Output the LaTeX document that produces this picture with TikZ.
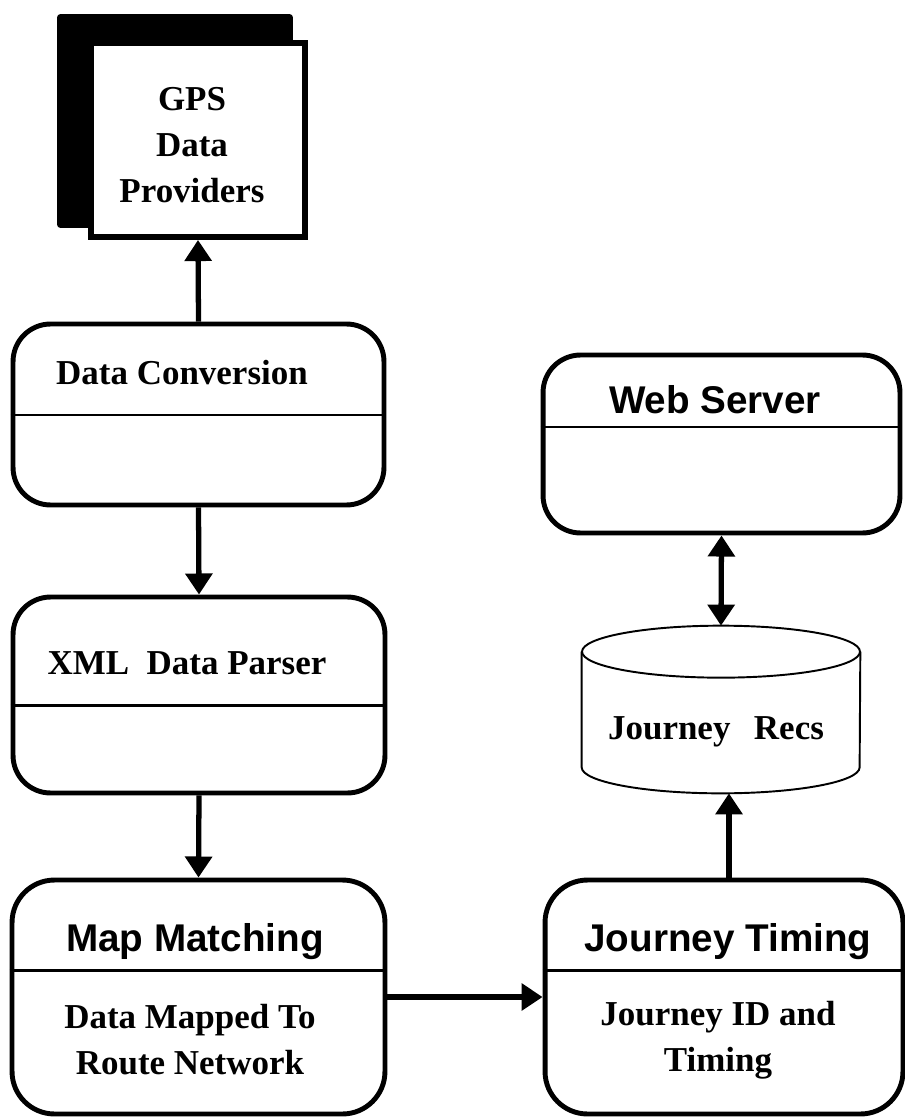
\documentclass[tikz,border=0pt]{standalone}
\usepackage{fontspec}
\setmainfont{Liberation Serif}
\setsansfont{Liberation Sans}
\usetikzlibrary{positioning,arrows.meta}

\begin{document}
\begin{tikzpicture}[x=0.02cm,y=-0.02cm,
    proc/.style={draw, line width=2.8pt, rounded corners=0.75cm, inner sep=0pt},
    sep/.style={line width=1.7pt},
    dbline/.style={line width=1.1pt},
    flow/.style={line width=3pt, -{Triangle[length=12pt,width=15pt]}},
    both/.style={line width=3pt, {Triangle[length=12pt,width=15pt]}-{Triangle[length=12pt,width=15pt]}},
    lbl/.style={font=\fontsize{19.9}{26.2}\selectfont\bfseries, align=center, inner sep=0pt},
    head/.style={font=\fontsize{22}{26}\selectfont\sffamily\bfseries, inner sep=0pt}]
    \useasboundingbox (0,0) rectangle (905,1118);

    \node[fill, rounded corners=2pt, minimum width=4.72cm, minimum height=4.28cm] (GPSback) at (175,121) {};
    \node[draw, fill=white, line width=3.4pt, minimum width=4.28cm, minimum height=3.88cm] (GPS) at (198,140) {};
    \node[lbl] (GPStxt) at (192,145) {GPS\\Data\\Providers};

    \node[proc, minimum width=7.42cm, minimum height=3.62cm] (DC)  at (198.5,414.5) {};
    \node[proc, minimum width=7.44cm, minimum height=3.92cm] (XML) at (199,695)     {};
    \node[proc, rounded corners=0.85cm, minimum width=7.46cm, minimum height=4.68cm] (MM) at (198.5,997) {};
    \node[proc, rounded corners=0.85cm, minimum width=7.16cm, minimum height=4.68cm] (JT) at (724,997)   {};
    \node[proc, minimum width=7.14cm, minimum height=3.56cm] (WS)  at (721.5,444)   {};

    \draw[sep] (DC.west  |- 0,415) -- (DC.east  |- 0,415);
    \draw[sep] (XML.west |- 0,705) -- (XML.east |- 0,705);
    \draw[sep] (MM.west  |- 0,970) -- (MM.east  |- 0,970);
    \draw[sep] (JT.west  |- 0,970) -- (JT.east  |- 0,970);
    \draw[sep] (WS.west  |- 0,427) -- (WS.east  |- 0,427);

    \node[lbl]  (DCtxt)  at (182,373)  {Data Conversion};
    \node[lbl]  (XMLtxt) at (187,663)  {XML\ \ Data Parser};
    \node[head] (MMtxt)  at (195,942)  {Map Matching};
    \node[lbl]  (MMbody) at (190,1040) {Data Mapped To\\Route Network};
    \node[head] (JTtxt)  at (728,942)  {Journey Timing};
    \node[lbl]  (JTbody) at (718,1040) {Journey ID and\\Timing};
    \node[head] (WStxt)  at (715,400)  {Web Server};

    \node[minimum width=5.56cm, minimum height=3.34cm, inner sep=0pt] (JR) at (721,709.5) {};
    \draw[dbline] ([yshift=-0.52cm]JR.north west) -- ([yshift=0.52cm]JR.south west)
        arc[start angle=180, end angle=360, x radius=2.78cm, y radius=0.52cm]
        -- ([yshift=-0.52cm]JR.north east);
    \draw[dbline] ([yshift=-0.52cm]JR.north) ellipse[x radius=2.78cm, y radius=0.52cm];
    \node[lbl] (JRtxt) at (716,732) {Journey\hspace{0.47cm}Recs};

    \draw[flow] (DC.north)  -- (GPS.south);
    \draw[flow] (DC.south)  -- (XML.north);
    \draw[flow] (XML.south) -- (MM.north);
    \draw[flow] (MM.east)   -- (JT.west);
    \draw[flow] (JT.north -| 729,0) -- (JR.south -| 729,0);
    \draw[both] (WS.south)  -- (JR.north);
\end{tikzpicture}
\end{document}
